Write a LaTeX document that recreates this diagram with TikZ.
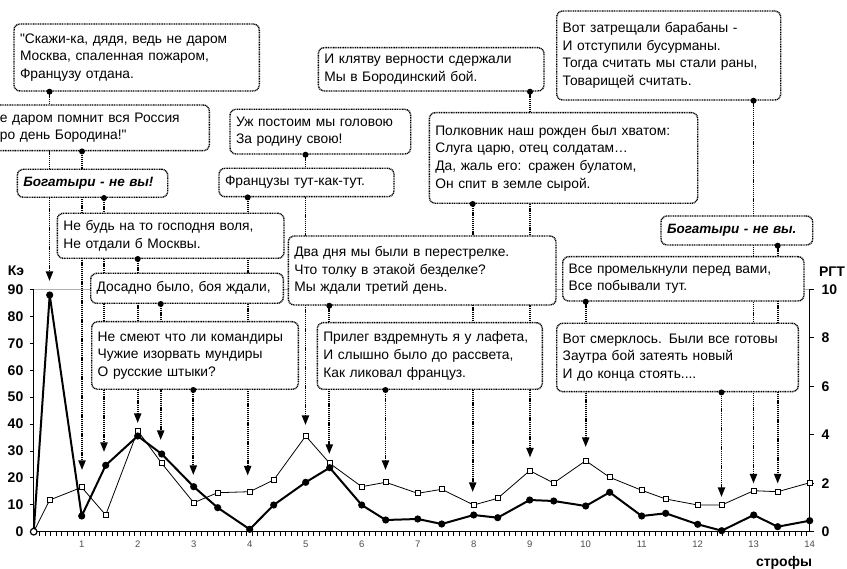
\documentclass[tikz,border=0pt]{standalone}
\usepackage{fontspec}
\setmainfont{Liberation Sans}
\newfontfamily\mainf{Liberation Sans}
\usetikzlibrary{arrows.meta,backgrounds,calc}
\begin{document}
\begin{tikzpicture}[x=1pt,y=-1pt,
  bx/.style={draw, line width=1.4pt, dash pattern=on 1pt off 0.7pt, rounded corners=6pt,
    fill=white, inner xsep=6pt, inner ysep=0pt, align=left,
    font=\mainf\fontsize{13.8}{17.6}\selectfont},
  bxb/.style={bx, font=\mainf\fontsize{13.5}{17.5}\selectfont\bfseries\itshape},
  conn/.style={line width=1.8pt, dash pattern=on 1.1pt off 0.8pt,
    -{Triangle[length=9.5pt,width=7pt]}},
  sqm/.style={draw, fill=white, line width=0.8pt, minimum size=5pt, inner sep=0pt},
  axl/.style={font=\mainf\fontsize{14}{14}\selectfont\bfseries, inner sep=0pt},
  xl/.style={font=\mainf\fontsize{9.5}{10}\selectfont, text=black!70, inner sep=0pt}
]
\useasboundingbox (0,0) rectangle (847,569);

% ---------- text boxes ----------
\node[bx, text width=233.3pt, minimum height=67pt] (A) at (136.65,57.5)
  {\mbox{"Скажи-ка, дядя, ведь не даром}\\\mbox{Москва, спаленная пожаром,}\\\mbox{Французу отдана.}};
\node[bx, text width=213.3pt, minimum height=45.7pt] (B) at (96.65,127.85)
  {\mbox{Не даром помнит вся Россия}\\\mbox{Про день Бородина!"}};
\node[bxb, text width=138.4pt, minimum height=28pt] (C) at (92.5,183.3)
  {\mbox{Богатыри - не вы!}};
\node[bx, text width=168.7pt, minimum height=44.7pt] (D) at (320.35,131.65)
  {\mbox{Уж постоим мы головою}\\\mbox{За родину свою!}};
\node[bx, text width=163pt, minimum height=28.4pt] (E) at (306.5,182.5)
  {\mbox{Французы тут-как-тут.}};
\node[bx, text width=213.7pt, minimum height=43.3pt] (F) at (431.15,69.35)
  {\mbox{И клятву верности сдержали}\\\mbox{Мы в Бородинский бой.}};
\node[bx, text width=256.4pt, minimum height=90.6pt] (G) at (563.5,158)
  {\mbox{Полковник наш рожден был хватом:}\\\mbox{Слуга царю, отец солдатам…}\\\mbox{Да, жаль его: сражен булатом,}\\\mbox{Он спит в земле сырой.}};
\node[bx, text width=212pt, minimum height=89pt] (H) at (668.7,55.5)
  {\mbox{Вот затрещали барабаны -}\\\mbox{И отступили бусурманы.}\\\mbox{Тогда считать мы стали раны,}\\\mbox{Товарищей считать.}};
\node[bxb, text width=139.7pt, minimum height=29pt] (I) at (736.85,230.5)
  {\mbox{Богатыри - не вы.}};
\node[bx, text width=229.3pt, minimum height=44.3pt] (J) at (683.35,278.85)
  {\mbox{Все промелькнули перед вами,}\\\mbox{Все побывали тут.}};
\node[bx, text width=229.6pt, minimum height=68.4pt] (K) at (677.5,357.5)
  {\mbox{Вот смерклось. Были все готовы}\\\mbox{Заутра бой затеять новый}\\\mbox{И до конца стоять....}};
\node[bx, text width=214.7pt, minimum height=45pt] (L) at (170.65,235.8)
  {\mbox{Не будь на то господня воля,}\\\mbox{Не отдали б Москвы.}};
\node[bx, text width=180.6pt, minimum height=30pt] (M) at (187,288.3)
  {\mbox{Досадно было, боя ждали,}};
\node[bx, text width=194.6pt, minimum height=67.6pt] (N) at (195,355.5)
  {\mbox{Не смеют что ли командиры}\\\mbox{Чужие изорвать мундиры}\\\mbox{О русские штыки?}};
\node[bx, text width=255.7pt, minimum height=69pt] (O) at (422.15,270.5)
  {\mbox{Два дня мы были в перестрелке.}\\\mbox{Что толку в этакой безделке?}\\\mbox{Мы ждали третий день.}};
\node[bx, text width=213pt, minimum height=66.6pt] (P) at (429.8,356)
  {\mbox{Прилег вздремнуть я у лафета,}\\\mbox{И слышно было до рассвета,}\\\mbox{Как ликовал француз.}};

% ---------- axis titles and labels ----------
\node[axl] (kelabel) at (16,271) {Кэ};
\node[axl] (rgtlabel) at (832,271.7) {РГТ};
\node[axl] (strlabel) at (784,562.7) {строфы};
\foreach \v [count=\k from 0] in {0,10,...,90}
  \node[axl, anchor=east] (ly\k) at (23.5,{531.7-26.91*\k}) {\v};
\foreach \v [count=\k from 0] in {0,2,...,10}
  \node[axl, anchor=west] (ry\k) at (821.5,{531.7-48.44*\k}) {\v};
\foreach \n in {1,...,14}
  \node[xl] (xl\n) at ({81.7+(\n-1)*56},544) {\n};

% ---------- arrow tips ----------
\coordinate (t1) at (49.5,281);
\coordinate (t2) at (82,470);
\coordinate (t3) at (104,452);
\coordinate (t4) at (137.7,423);
\coordinate (t5) at (160.7,440);
\coordinate (t6) at (193.3,475);
\coordinate (t7) at (247.7,475.5);
\coordinate (t8) at (305.5,425);
\coordinate (t9) at (329.3,454);
\coordinate (t10) at (385.5,470);
\coordinate (t11) at (472.7,492);
\coordinate (t12) at (530,457.5);
\coordinate (t13) at (585.7,447);
\coordinate (t14) at (721.5,497);
\coordinate (t15) at (753.5,483.5);
\coordinate (t16) at (777.7,483.5);

% ---------- data ----------
\foreach \i/\xx/\cy/\qy in {
  0/33.7/531.7/531.7, 1/49.7/295/500, 2/81.7/516/487.3, 3/105.7/465.3/515,
  4/137.7/436/430.7, 5/161.7/454/463.3, 6/193.7/486.7/502.7, 7/217.7/507.7/492.7,
  8/249.7/529.3/491.7, 9/273.7/505/480, 10/305.7/482.3/436, 11/329.7/467.7/463.3,
  12/361.7/505/486.7, 13/385.7/520/482.3, 14/417.7/519/493.3, 15/441.7/524/489.3,
  16/473.7/515/505, 17/497.7/517.7/498.3, 18/529.7/500/470.7, 19/553.7/501/483,
  20/585.7/506/460.7, 21/609.7/492.3/477.3, 22/641.7/516/490.3, 23/665.7/513.3/499,
  24/697.7/524.3/505, 25/721.7/530.7/505, 26/753.7/515/490.7, 27/777.7/526.7/491.7,
  28/809.7/520.7/482.7}
{ \coordinate (c\i) at (\xx,\cy); \coordinate (q\i) at (\xx,\qy); }

\begin{pgfonlayer}{background}
  \fill[white] (0,0) rectangle (847,569);
  % grid line and axes
  \draw[black!30, line width=0.8pt] (33.7,289.5) -- (809.7,289.5);
  \draw[line width=0.9pt] (33.7,289.5) -- (33.7,531.7) -- (809.7,531.7) -- (809.7,289.5);
  \foreach \k in {0,...,9} \draw[line width=0.9pt] (29.5,{531.7-26.91*\k}) -- (33.7,{531.7-26.91*\k});
  \foreach \k in {0,...,5} \draw[line width=0.9pt] (809.7,{531.7-48.44*\k}) -- (814,{531.7-48.44*\k});
  \foreach \j in {1,...,138} \draw[line width=0.8pt] ({33.7+5.6*\j},531.7) -- ({33.7+5.6*\j},535.5);
  % thin series (РГТ)
  \draw[line width=0.8pt] (q0) \foreach \i in {1,...,28}{ -- (q\i)};
  \foreach \i in {1,...,28} \node[sqm] (sq\i) at (q\i) {};
  % thick series (Кэ)
  \draw[line width=2pt, line join=round] (c0) \foreach \i in {1,...,28}{ -- (c\i)};
  \foreach \i in {1,...,28} \fill (c\i) circle (3.6pt);
  \draw[fill=white, line width=1.2pt] (c0) circle (3.3pt);
  % connectors
  \draw[conn] (A.south -| t1) -- (t1);
  \draw[conn] (B.south -| t2) -- (t2);
  \draw[conn] (C.south -| t3) -- (t3);
  \draw[conn] (L.south -| t4) -- (t4);
  \draw[conn] (M.south -| t5) -- (t5);
  \draw[conn] (N.south -| t6) -- (t6);
  \draw[conn] (E.south -| t7) -- (t7);
  \draw[conn] (D.south -| t8) -- (t8);
  \draw[conn] (O.south -| t9) -- (t9);
  \draw[conn] (P.south -| t10) -- (t10);
  \draw[conn] (G.south -| t11) -- (t11);
  \draw[conn] (F.south -| t12) -- (t12);
  \draw[conn] (J.south -| t13) -- (t13);
  \draw[conn] (K.south -| t14) -- (t14);
  \draw[conn] (H.south -| t15) -- (t15);
  \draw[conn] (I.south -| t16) -- (t16);
\end{pgfonlayer}

% ---------- start dots ----------
\foreach \b/\t in {A/t1,B/t2,C/t3,L/t4,M/t5,N/t6,E/t7,D/t8,O/t9,P/t10,G/t11,F/t12,J/t13,K/t14,H/t15,I/t16}
  \fill (\b.south -| \t) circle (3pt);
\end{tikzpicture}
\end{document}
